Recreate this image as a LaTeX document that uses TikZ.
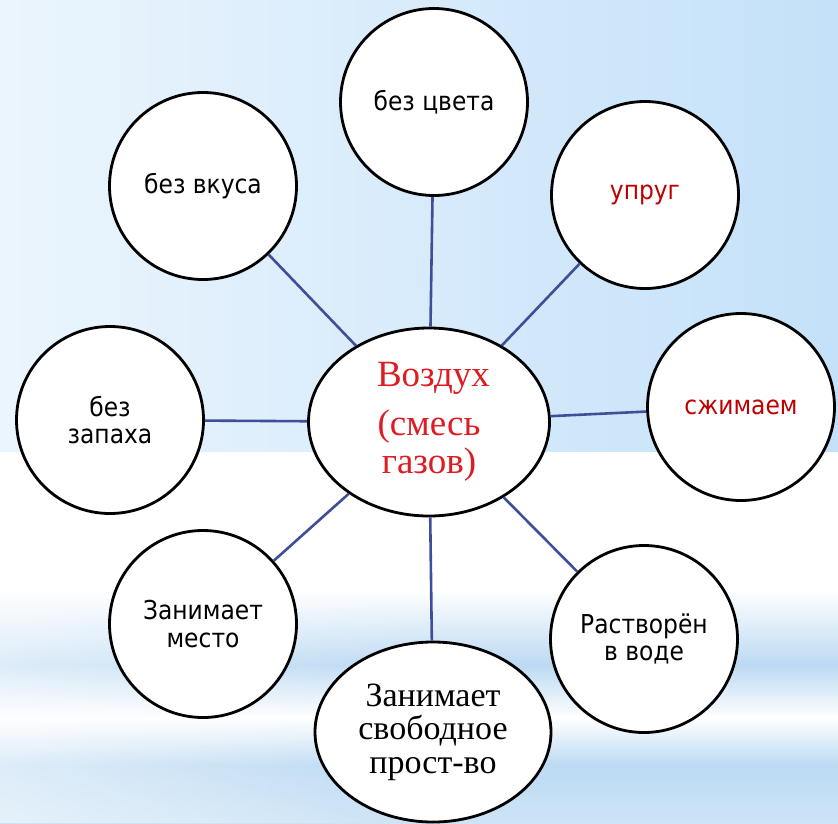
\documentclass[tikz,border=0pt]{standalone}
\usepackage{fontspec}
\newfontfamily\sansc{DejaVu Sans Condensed}
\newfontfamily\serifc{Liberation Serif}
\usetikzlibrary{shapes.geometric,fadings}
\definecolor{bgL}{HTML}{EBF5FD}
\definecolor{bgR}{HTML}{C4E1F9}
\definecolor{band}{HTML}{BCDAF3}
\definecolor{bandB}{HTML}{CDE4F6}
\definecolor{linkc}{RGB}{63,78,152}
\definecolor{darkred}{RGB}{192,0,0}
\definecolor{airred}{RGB}{222,28,36}
\tikzfading[name=fadeR, left color=transparent!0, right color=transparent!100]
\tikzset{
  bubble/.style={circle, draw=black, line width=2.8pt, fill=white, minimum size=187pt,
    inner sep=0pt, align=center, font=\sansc\fontsize{26}{27.5}\selectfont},
  oval/.style={ellipse, draw=black, line width=2.8pt, fill=white, inner sep=0pt, align=center},
  link/.style={draw=linkc, line width=2.6pt}
}
\begin{document}
\begin{tikzpicture}[x=1pt,y=-1pt]
\useasboundingbox (0,0) rectangle (838,823);
% background
\shade[left color=bgL, right color=bgR] (0,0) rectangle (838,452);
\fill[white] (0,452) rectangle (838,590);
\shade[top color=white, bottom color=band] (0,590) rectangle (838,665);
\shade[top color=band, bottom color=white] (0,665) rectangle (838,718);
\shade[top color=white, bottom color=band] (0,718) rectangle (838,765);
\shade[top color=band, bottom color=bandB] (0,765) rectangle (838,823);
\fill[white, opacity=0.5, path fading=fadeR] (0,590) rectangle (420,823);
% nodes
\node[oval, minimum width=241pt, minimum height=188pt,
  font=\serifc\fontsize{37}{38}\selectfont, text=airred] (c) at (429,422)
  {\hspace*{9pt}Воздух\\[11pt](смесь\\газов)};
\node[bubble] (t) at (434,102) {без цвета};
\node[bubble] (ul) at (203,186) {без вкуса};
\node[bubble, text=darkred] (ur) at (645,195) {упруг};
\node[bubble] (l) at (110,420) {без\\запаха};
\node[bubble, text=darkred] (r) at (741,407) {сжимаем};
\node[bubble] (ll) at (203,624) {Занимает\\место};
\node[bubble] (lr) at (644,639) {Растворён\\в воде};
\node[oval, minimum width=236pt, minimum height=180pt,
  font=\serifc\fontsize{34}{33.5}\selectfont] (b) at (433,732)
  {Занимает\\свободное\\прост-во};
% links
\foreach \n in {t,ul,ur,l,r,ll,lr,b} \draw[link] (c) -- (\n);
\end{tikzpicture}
\end{document}
